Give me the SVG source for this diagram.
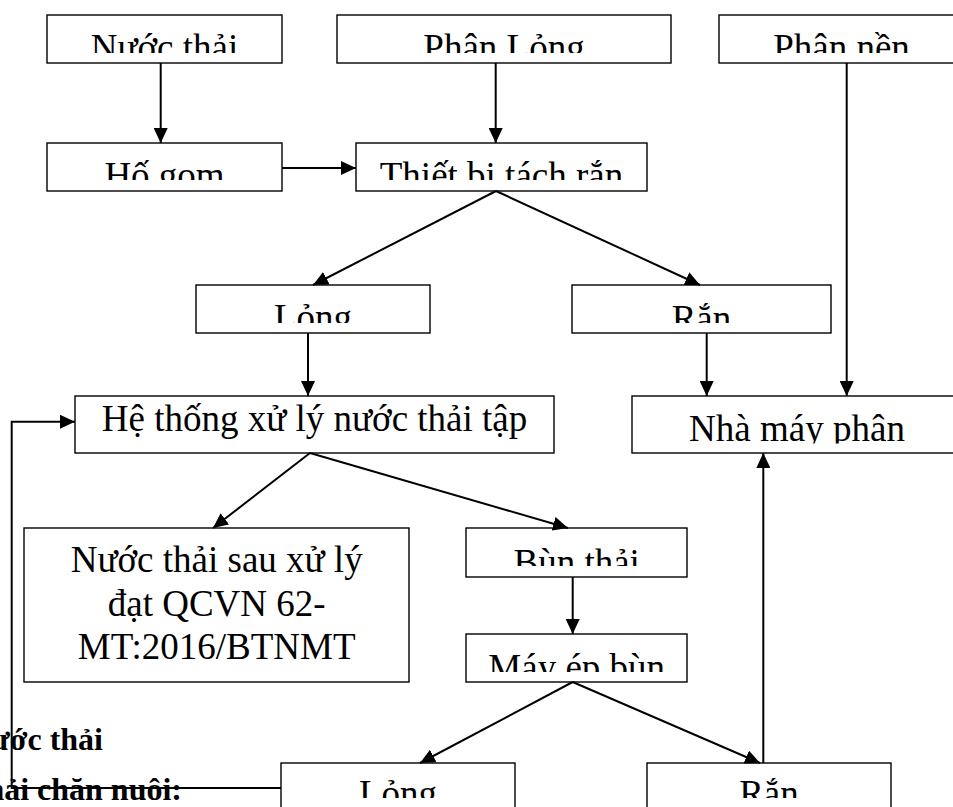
<svg xmlns="http://www.w3.org/2000/svg" width="953" height="807" viewBox="0 0 953 807">
<style>
.box{fill:#fff;stroke:#000;stroke-width:1.4}
.t{font-family:"Liberation Serif","Times New Roman",serif;font-size:37px;fill:#000;text-anchor:middle}
.b{font-family:"Liberation Serif","Times New Roman",serif;font-size:32px;font-weight:bold;fill:#000;text-anchor:end}
.c{fill:none;stroke:#000;stroke-width:2}
</style>
<defs>
<marker id="ah" markerUnits="userSpaceOnUse" markerWidth="16" markerHeight="14" refX="15" refY="7" orient="auto">
<path d="M0,0 L15,7 L0,14 Z" fill="#000"/>
</marker>
<clipPath id="c1"><rect x="0" y="15" width="953" height="38"/></clipPath>
<clipPath id="c2"><rect x="0" y="143" width="953" height="37"/></clipPath>
<clipPath id="c3"><rect x="0" y="285" width="953" height="38"/></clipPath>
<clipPath id="c4"><rect x="0" y="396" width="953" height="46"/></clipPath>
<clipPath id="c4b"><rect x="0" y="396" width="953" height="47.5"/></clipPath>
<clipPath id="c5"><rect x="0" y="528" width="953" height="38"/></clipPath>
<clipPath id="c6"><rect x="0" y="634" width="953" height="38"/></clipPath>
<clipPath id="c7"><rect x="0" y="763" width="953" height="35"/></clipPath>
</defs>

<g id="bold-text">
<text class="b" x="103" y="750">nước thải</text>
<text class="b" x="182" y="800">thải chăn nuôi:</text>
</g>

<g id="n-nuocthai"><rect class="box" x="47" y="15" width="235" height="48"/><text class="t" x="164.5" y="59.5" clip-path="url(#c1)">Nước thải</text></g>
<g id="n-phanlong"><rect class="box" x="337" y="15" width="334" height="48"/><text class="t" x="504" y="59.5" clip-path="url(#c1)">Phân Lỏng</text></g>
<g id="n-phannen"><rect class="box" x="719" y="15" width="260" height="48"/><text class="t" x="841.5" y="59.5" clip-path="url(#c1)">Phân nền</text></g>
<g id="n-hogom"><rect class="box" x="47" y="143" width="235" height="48"/><text class="t" x="164.5" y="188" clip-path="url(#c2)">Hố gom</text></g>
<g id="n-thietbi"><rect class="box" x="356" y="143" width="291" height="48"/><text class="t" x="501.5" y="188" clip-path="url(#c2)">Thiết bị tách rắn</text></g>
<g id="n-long1"><rect class="box" x="196" y="285" width="234" height="48"/><text class="t" x="313" y="330" clip-path="url(#c3)">Lỏng</text></g>
<g id="n-ran1"><rect class="box" x="572" y="285" width="259" height="48"/><text class="t" x="701.5" y="331" clip-path="url(#c3)">Rắn</text></g>
<g id="n-hethong"><rect class="box" x="75" y="396" width="479" height="57"/><text class="t" x="314.5" y="431" clip-path="url(#c4)">Hệ thống xử lý nước thải tập</text></g>
<g id="n-nhamay"><rect class="box" x="632" y="396" width="340" height="57"/><text class="t" x="797" y="441" clip-path="url(#c4b)">Nhà máy phân</text></g>
<g id="n-nuocsau"><rect class="box" x="24" y="528" width="385" height="154"/>
<text class="t" x="216.7" y="572">Nước thải sau xử lý</text>
<text class="t" x="216.7" y="615.5">đạt QCVN 62-</text>
<text class="t" x="216.7" y="659">MT:2016/BTNMT</text></g>
<g id="n-bunthai"><rect class="box" x="466" y="528" width="221" height="49"/><text class="t" x="576.7" y="574.5" clip-path="url(#c5)">Bùn thải</text></g>
<g id="n-mayep"><rect class="box" x="466" y="634" width="221" height="48"/><text class="t" x="576.7" y="679.5" clip-path="url(#c6)">Máy ép bùn</text></g>
<g id="n-long2"><rect class="box" x="281" y="763" width="234" height="60"/><text class="t" x="398" y="806" clip-path="url(#c7)">Lỏng</text></g>
<g id="n-ran2"><rect class="box" x="647" y="763" width="244" height="60"/><text class="t" x="769" y="806" clip-path="url(#c7)">Rắn</text></g>

<g id="connectors">
<line class="c" x1="160.7" y1="63" x2="160.7" y2="143" marker-end="url(#ah)"/>
<line class="c" x1="495.7" y1="63" x2="495.7" y2="143" marker-end="url(#ah)"/>
<line class="c" x1="282" y1="168" x2="356" y2="168" marker-end="url(#ah)"/>
<line class="c" x1="496" y1="191" x2="313" y2="285" marker-end="url(#ah)"/>
<line class="c" x1="496" y1="191" x2="700" y2="285" marker-end="url(#ah)"/>
<line class="c" x1="308" y1="333" x2="308" y2="396" marker-end="url(#ah)"/>
<line class="c" x1="706.7" y1="333" x2="706.7" y2="396" marker-end="url(#ah)"/>
<line class="c" x1="846.7" y1="63" x2="846.7" y2="396" marker-end="url(#ah)"/>
<line class="c" x1="310" y1="453" x2="213" y2="528" marker-end="url(#ah)"/>
<line class="c" x1="310" y1="453" x2="568" y2="528" marker-end="url(#ah)"/>
<line class="c" x1="572.7" y1="577" x2="572.7" y2="634" marker-end="url(#ah)"/>
<line class="c" x1="572.7" y1="682" x2="420" y2="763" marker-end="url(#ah)"/>
<line class="c" x1="572.7" y1="682" x2="760" y2="763" marker-end="url(#ah)"/>
<line class="c" x1="763.3" y1="763" x2="763.3" y2="453" marker-end="url(#ah)"/>
<polyline class="c" points="281,788 11.7,788 11.7,421.7 75,421.7" marker-end="url(#ah)"/>
</g>
</svg>
